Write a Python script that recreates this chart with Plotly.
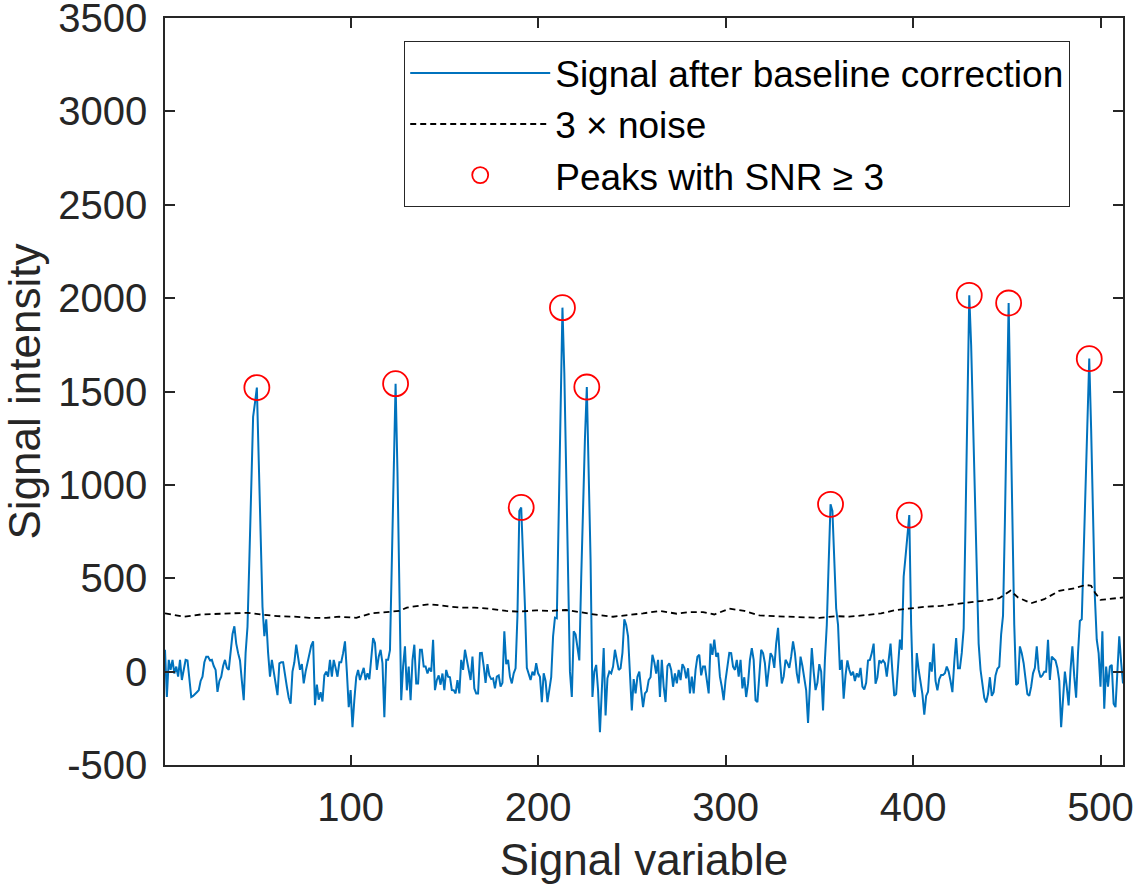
import plotly.graph_objects as go

# Signal after baseline correction (index 1..512)
signal = [
    117, -136, 63, 9, 63, -10, 27, -27, 63, -45,
    10, 63, 60, -30, -136, -130, -117, -110, -100, -50,
    -27, 50, 80, 80, 60, 63, 30, 9, -108, -50,
    -27, 30, 63, 20, 9, 100, 200, 243, 150, 99,
    60, -50, -153, 100, 240, 600, 990, 1364, 1440, 1521,
    1130, 738, 347, 190, 280, 100, -27, 63, 0, -63,
    -126, 44, 50, 50, -30, -81, -140, -172, 0, 50,
    144, 80, 10, 40, -63, 0, 50, 100, 140, 162,
    -180, -70, -150, -110, -160, -20, 0, -27, 63, -27,
    63, 20, -27, 50, 50, 99, 162, 0, -190, -99,
    -298, -150, -30, 9, -45, -10, 20, -45, -9, -40,
    60, 180, 153, 9, 80, 117, 45, -244, 63, 63,
    115, 600, 1070, 1542, 1070, 500, -153, 27, 135, -100,
    27, -153, 60, 144, -63, -63, 117, 117, 27, 27,
    -10, 20, 0, 171, -99, -45, -20, -70, -10, -99,
    9, -27, -30, -99, -100, -117, -45, -117, 63, 9,
    117, 63, 9, -45, 80, -90, -117, -117, 99, 100,
    30, -60, 40, -20, -40, -36, -90, -27, -20, -80,
    -60, 216, 40, 63, -27, -63, -9, 18, 300, 860,
    879, 641, 350, 20, -9, -45, 0, -20, 45, -9,
    -27, -163, -9, -50, -163, -100, -30, 189, 289, 285,
    900, 1417, 1949, 1600, 1050, 500, 0, -136, 216, 200,
    117, 60, 500, 900, 1250, 1524, 1100, 600, -136, 0,
    36, -100, -325, -81, 126, -235, -36, 0, -9, 27,
    117, 63, 9, 18, 100, 280, 250, 189, -45, -208,
    -40, -117, -27, 0, -100, -190, -117, -105, -45, -30,
    90, 50, -10, 63, -136, 63, -80, -163, 30, 45,
    9, -81, -9, -63, 9, -45, 40, 20, -36, 18,
    -117, -27, -117, 9, 80, 90, -20, 27, 27, -45,
    -117, 150, 90, 171, 80, 100, -27, -81, -153, -45,
    27, 100, 99, 27, 9, 63, -27, 63, -90, -30,
    -136, -63, 63, 126, 63, -153, -163, 0, 117, 99,
    45, -81, 20, 99, 80, 20, 150, 234, 63, -63,
    -27, 63, 45, 20, 80, 162, 99, -9, -63, 80,
    30, -40, -100, -275, -100, 126, 0, -99, -60, 40,
    0, -208, 63, 250, 580, 896, 860, 600, 338, 250,
    9, 63, -145, -20, 60, 10, -20, 0, -50, -9,
    -30, 20, -80, -95, -60, 60, 63, 99, 150, -65,
    -30, 60, 48, 60, 45, -27, 80, 150, 0, -130,
    -120, 50, 171, 117, 508, 616, 727, 838, 250, -100,
    -136, 99, 10, -50, -120, -230, -130, -108, 50, 0,
    150, -50, -100, -40, -18, -18, -9, 27, 0, -50,
    -110, 50, 180, 18, 18, 100, 230, 800, 1400, 2015,
    1750, 1350, 950, 600, 150, 10, -60, -140, -165, -120,
    -30, -130, -110, -20, 15, 27, 200, 300, 800, 1350,
    1974, 1400, 800, 250, -72, -63, 135, 99, 45, -50,
    -120, -130, -81, -9, 20, 135, 9, -30, -20, 0,
    0, 171, -45, 80, 70, 60, 20, -50, -298, -117,
    0, -81, -181, 9, 135, -27, -140, 99, 271, 280,
    620, 980, 1330, 1676, 1300, 850, 400, 171, 99, -81,
    216, -199, 27, -81, 27, 36, -172, -190, 27, 189,
    50, -63,
]
signal_x = list(range(1, len(signal) + 1))

# 3 x noise level
noise_x = [1, 11, 20, 36, 45, 52, 61, 70, 78, 87, 94, 103, 111, 119, 126, 130,
           135, 142, 150, 158, 166, 174, 183, 190, 199, 206, 215, 224, 232, 240,
           247, 256, 265, 274, 281, 288, 294, 302, 310, 318, 326, 335, 344, 350,
           359, 366, 375, 383, 391, 398, 407, 415, 423, 430, 437, 446, 452, 456,
           463, 470, 478, 486, 492, 495, 497, 500, 505, 512]
noise_y = [312, 294, 306, 312, 315, 306, 297, 294, 288, 288, 294, 288, 312, 319,
           325, 343, 352, 361, 352, 343, 343, 337, 325, 321, 328, 325, 330, 315,
           303, 294, 301, 312, 325, 310, 319, 319, 306, 337, 325, 301, 297, 294,
           294, 288, 297, 294, 303, 312, 330, 339, 348, 352, 361, 370, 379, 393,
           433, 397, 366, 388, 433, 446, 464, 460, 424, 384, 388, 397]

# Peaks with SNR >= 3 (indices into the signal)
peak_idx = [50, 124, 191, 213, 226, 356, 398, 430, 451, 494]
peak_y = [signal[i - 1] for i in peak_idx]

y_ticks = [-500, 0, 500, 1000, 1500, 2000, 2500, 3000, 3500]
y_ticktext = ["-500", "0", "500", "1000", "1500", "2000", "2500", "3000", "3500"]
x_ticks = [100, 200, 300, 400, 500]
x_ticktext = ["100", "200", "300", "400", "500"]

FONT = "Liberation Sans, Arial, Helvetica, sans-serif"
AX = "#262626"

fig = go.Figure()
fig.add_trace(go.Scatter(
    x=signal_x, y=signal, mode="lines",
    line=dict(color="#0072BD", width=2),
    name="Signal after baseline correction",
))
fig.add_trace(go.Scatter(
    x=noise_x, y=noise_y, mode="lines",
    line=dict(color="black", width=1.8, dash="6px,4px"),
    name="3 × noise",
))
fig.add_trace(go.Scatter(
    x=peak_idx, y=peak_y, mode="markers",
    marker=dict(symbol="circle-open", size=25, color="#FF0000",
                line=dict(width=1.8, color="#FF0000")),
    name="Peaks with SNR ≥ 3",
))

axis_common = dict(
    showline=True, linecolor=AX, linewidth=1.5, mirror="ticks",
    ticks="inside", ticklen=10, tickwidth=1.5, tickcolor=AX,
    showgrid=False, zeroline=False, automargin=False,
    ticklabeloverflow="allow",
    tickfont=dict(family=FONT, size=40, color=AX),
)

fig.update_layout(
    width=1135, height=886,
    margin=dict(l=165, r=12, t=18, b=121),
    paper_bgcolor="white", plot_bgcolor="white",
    font=dict(family=FONT, color=AX),
    showlegend=True,
    legend=dict(
        x=0.2495, y=0.969, xanchor="left", yanchor="top",
        bordercolor=AX, borderwidth=1.2, bgcolor="white",
        font=dict(family=FONT, size=37, color="black"),
        itemwidth=140,
    ),
    xaxis=dict(
        range=[1, 512], tickvals=x_ticks, ticktext=x_ticktext,
        ticklabelstandoff=6,
        title=dict(text="Signal variable", font=dict(family=FONT, size=44, color=AX), standoff=16),
        **axis_common,
    ),
    yaxis=dict(
        range=[-500, 3500], tickvals=y_ticks, ticktext=y_ticktext,
        ticklabelstandoff=8,
        title=dict(text="Signal intensity", font=dict(family=FONT, size=44, color=AX), standoff=17),
        **axis_common,
    ),
)

fig.write_html(
    "out.html",
    config={"displayModeBar": False},
    post_script="document.body.style.margin='0px';",
)
